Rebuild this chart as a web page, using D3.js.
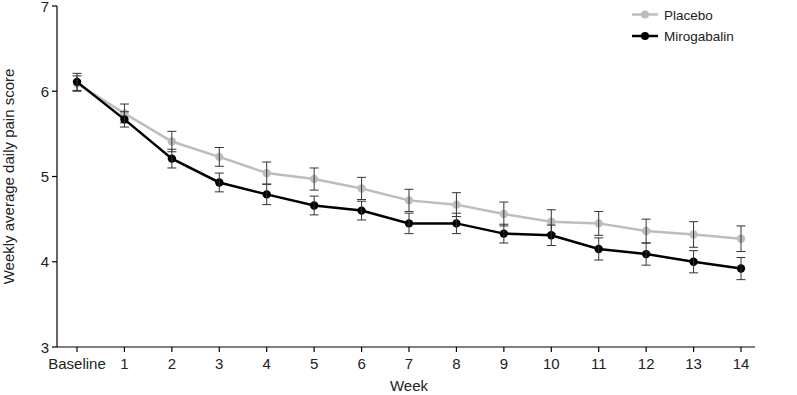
<!DOCTYPE html>
<html>
<head>
<meta charset="utf-8">
<script src="https://cdn.jsdelivr.net/npm/d3@7"></script>
<style>
    body { margin: 0; background: #fff; }
    text { font-family: "Liberation Sans", Arial, sans-serif; fill: #222; }
</style>
</head>
<body>
<div id="chart"></div>
<script>
const weeks = ["Baseline", "1", "2", "3", "4", "5", "6", "7", "8", "9", "10", "11", "12", "13", "14"];
const placeboMean = [6.09, 5.74, 5.41, 5.23, 5.04, 4.97, 4.86, 4.72, 4.67, 4.56, 4.47, 4.45, 4.36, 4.32, 4.27];
const placeboSE = [0.09, 0.11, 0.12, 0.11, 0.13, 0.13, 0.13, 0.13, 0.14, 0.14, 0.14, 0.14, 0.14, 0.15, 0.15];
const miroMean = [6.11, 5.67, 5.21, 4.93, 4.79, 4.66, 4.60, 4.45, 4.45, 4.33, 4.31, 4.15, 4.09, 4.00, 3.92];
const miroSE = [0.10, 0.09, 0.11, 0.11, 0.12, 0.11, 0.11, 0.12, 0.12, 0.11, 0.12, 0.13, 0.13, 0.13, 0.13];
const yTicks = [3, 4, 5, 6, 7];

const series = [
    {name: "Placebo", mean: placeboMean, se: placeboSE, color: "#bdbdbd"},
    {name: "Mirogabalin", mean: miroMean, se: miroSE, color: "#000000"}
];

const width = 797, height = 395;
const plot = {left: 57, right: 755, top: 6, bottom: 347};

let svg = d3.select("#chart")
    .append("svg")
    .attr("width", width)
    .attr("height", height);

let xScale = d3.scalePoint().domain(weeks).range([77, 741]);
let yScale = d3.scaleLinear().domain([3, 7]).range([plot.bottom, plot.top]);

// axes
svg.append("line")
    .attr("x1", plot.left).attr("x2", plot.left)
    .attr("y1", plot.top).attr("y2", plot.bottom)
    .attr("stroke", "#000").attr("stroke-width", 1.2);
svg.append("line")
    .attr("x1", plot.left).attr("x2", plot.right)
    .attr("y1", plot.bottom).attr("y2", plot.bottom)
    .attr("stroke", "#000").attr("stroke-width", 1.2);

let yAxis = svg.append("g");
yAxis.selectAll("line")
    .data(yTicks).enter().append("line")
    .attr("x1", plot.left - 5).attr("x2", plot.left)
    .attr("y1", d => yScale(d)).attr("y2", d => yScale(d))
    .attr("stroke", "#000").attr("stroke-width", 1.2);
yAxis.selectAll("text")
    .data(yTicks).enter().append("text")
    .attr("x", plot.left - 8)
    .attr("y", d => yScale(d) + 5.5)
    .attr("text-anchor", "end")
    .style("font-size", "15px")
    .text(d => d);

let xAxis = svg.append("g");
xAxis.selectAll("line")
    .data(weeks).enter().append("line")
    .attr("x1", d => xScale(d)).attr("x2", d => xScale(d))
    .attr("y1", plot.bottom).attr("y2", plot.bottom + 5)
    .attr("stroke", "#000").attr("stroke-width", 1.2);
xAxis.selectAll("text")
    .data(weeks).enter().append("text")
    .attr("x", d => xScale(d))
    .attr("y", 369)
    .attr("text-anchor", "middle")
    .style("font-size", "15px")
    .text(d => d);

svg.append("text")
    .attr("x", 409).attr("y", 391)
    .attr("text-anchor", "middle")
    .style("font-size", "15px")
    .text("Week");

svg.append("text")
    .attr("transform", `translate(14,${(plot.top + plot.bottom) / 2}) rotate(-90)`)
    .attr("text-anchor", "middle")
    .style("font-size", "15px")
    .text("Weekly average daily pain score");

// series
let line = d3.line()
    .x((d, i) => xScale(weeks[i]))
    .y(d => yScale(d));

series.forEach(s => {
    let g = svg.append("g");
    g.append("path")
        .attr("d", line(s.mean))
        .attr("fill", "none")
        .attr("stroke", s.color)
        .attr("stroke-width", 2.5);
    g.selectAll("circle")
        .data(s.mean).enter().append("circle")
        .attr("cx", (d, i) => xScale(weeks[i]))
        .attr("cy", d => yScale(d))
        .attr("r", 4.2)
        .attr("fill", s.color);
    let bars = g.selectAll("g.err")
        .data(s.mean.map((m, i) => ({x: weeks[i], lo: m - s.se[i], hi: m + s.se[i]})))
        .enter().append("g").attr("class", "err");
    bars.append("line")
        .attr("x1", d => xScale(d.x)).attr("x2", d => xScale(d.x))
        .attr("y1", d => yScale(d.lo)).attr("y2", d => yScale(d.hi))
        .attr("stroke", "#333").attr("stroke-width", 1);
    bars.append("line")
        .attr("x1", d => xScale(d.x) - 4.5).attr("x2", d => xScale(d.x) + 4.5)
        .attr("y1", d => yScale(d.hi)).attr("y2", d => yScale(d.hi))
        .attr("stroke", "#333").attr("stroke-width", 1);
    bars.append("line")
        .attr("x1", d => xScale(d.x) - 4.5).attr("x2", d => xScale(d.x) + 4.5)
        .attr("y1", d => yScale(d.lo)).attr("y2", d => yScale(d.lo))
        .attr("stroke", "#333").attr("stroke-width", 1);
});

// legend
let legend = svg.append("g");
series.forEach((s, i) => {
    let y = 14.5 + i * 21.5;
    legend.append("line")
        .attr("x1", 632).attr("x2", 658)
        .attr("y1", y).attr("y2", y)
        .attr("stroke", s.color).attr("stroke-width", 2.5);
    legend.append("circle")
        .attr("cx", 645).attr("cy", y).attr("r", 4)
        .attr("fill", s.color);
    legend.append("text")
        .attr("x", 664).attr("y", y + 5)
        .style("font-size", "13.5px")
        .text(s.name);
});
</script>
</body>
</html>
